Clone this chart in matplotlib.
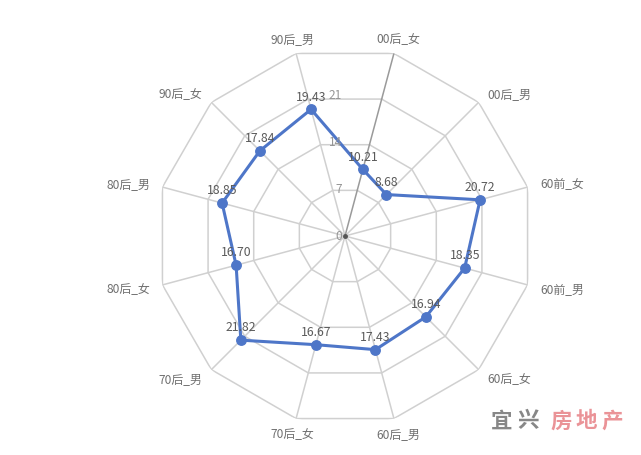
import numpy as np
import matplotlib
matplotlib.use("Agg")
import matplotlib.pyplot as plt

plt.rcParams['font.family'] = ['Noto Sans CJK SC', 'DejaVu Sans']

categories = ["00后_女", "00后_男", "60前_女", "60前_男", "60后_女", "60后_男",
              "70后_女", "70后_男", "80后_女", "80后_男", "90后_女", "90后_男"]
values = [10.21, 8.68, 20.72, 18.35, 16.94, 17.43, 16.67, 21.82, 16.70, 18.85, 17.84, 19.43]
ring_ticks = [7, 14, 21, 28]
tick_labels = ["0", "7", "14", "21"]
r_max = 28
start_deg = 15

W, H = 641, 456
fig = plt.figure(figsize=(W / 100, H / 100), dpi=100)
cx, cy, R = 345, 237, 189
ax = fig.add_axes([(cx - R) / W, (H - cy - R) / H, 2 * R / W, 2 * R / H], projection='polar')
ax.set_theta_zero_location('N')
ax.set_theta_direction(-1)
ax.set_ylim(0, r_max)
ax.grid(False)
ax.spines['polar'].set_visible(False)
ax.set_xticks([])
ax.set_yticks([])
ax.patch.set_alpha(0)

n = len(categories)
angles = np.deg2rad(start_deg + 360.0 / n * np.arange(n))
closed = np.append(angles, angles[0])

grid_c = '#d0d0d0'
for v in ring_ticks:
    ax.plot(closed, [v] * (n + 1), color=grid_c, lw=1.1, zorder=1)
for i, a in enumerate(angles):
    ax.plot([a, a], [0, r_max], color='#9a9a9a' if i == 0 else grid_c,
            lw=1.1, zorder=1 if i else 2)

ax.plot([0], [0], 'o', color='#555555', ms=2.5, zorder=3)

blue = '#4e76c8'
vals_closed = np.append(values, values[0])
ax.plot(closed, vals_closed, color=blue, lw=2.2, zorder=4)
ax.plot(angles, values, 'o', color=blue, ms=6.8, zorder=5)

for a, v in zip(angles, values):
    ax.annotate(f"{v:.2f}", (a, v), xytext=(0, 9.5), textcoords='offset points',
                ha='center', va='center', fontsize=8.8, color='#5a5a5a', zorder=6)

# radial tick labels along the vertical
for v, lab in zip([0] + ring_ticks[:3], tick_labels):
    ax.annotate(lab, (0, v), xytext=(-2, 0), textcoords='offset points',
                ha='right', va='center', fontsize=8.6, color='#959595', zorder=6)

# category labels
for a, lab in zip(angles, categories):
    s = np.sin(a)
    if abs(s) < 0.3:
        ax.text(a, 30.3, lab, ha='center', va='center', fontsize=8.6, color='#707070')
    else:
        ax.text(a, 29.9, lab, ha='left' if s > 0 else 'right', va='center',
                fontsize=8.6, color='#707070')

# watermark
wm_chars = ["宜", "兴", "房", "地", "产"]
wm_cols = ['#7a7a7a', '#7a7a7a', '#e8878c', '#e8878c', '#e8878c']
wm_x = [502, 528, 561, 586, 612]
for ch, col, x in zip(wm_chars, wm_cols, wm_x):
    fig.text(x / W, 1 - 421 / H, ch, ha='center', va='center', fontsize=15.5,
             fontweight='bold', color=col, alpha=0.9)

fig.savefig('out.png', dpi=100)
